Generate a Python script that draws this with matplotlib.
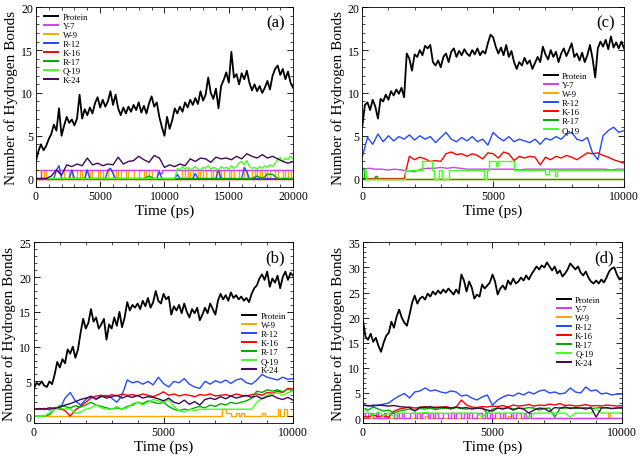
import matplotlib
matplotlib.use("Agg")
import matplotlib.pyplot as plt
import matplotlib.ticker as ticker
import numpy as np

# ── Data (values in number of H-bonds) ──
# (a) 0..20000 ps
a_protein = [2.0, 3.2, 4.0, 3.3, 3.8, 4.6, 5.2, 6.3, 5.6, 8.2, 5.0, 6.2, 7.2, 6.5, 6.9, 6.2, 7.0,
             9.8, 7.0, 8.1, 7.4, 8.3, 7.6, 8.8, 9.5, 8.3, 9.2, 8.4, 9.0, 10.2, 8.6, 9.8, 8.2, 7.4,
             8.3, 7.6, 8.4, 7.8, 8.6, 8.0, 8.9, 7.7, 8.5, 7.6, 8.8, 9.6, 8.4, 8.9, 7.2, 6.0, 5.0,
             7.2, 5.8, 6.8, 8.2, 7.6, 8.4, 7.8, 8.9, 8.3, 9.2, 8.6, 9.4, 8.7, 10.2, 9.1, 9.8, 11.8,
             10.0, 9.3, 10.5, 8.2, 10.8, 11.5, 12.4, 11.2, 14.8, 11.8, 12.2, 11.0, 12.3, 11.6, 12.6,
             11.2, 10.3, 11.0, 10.2, 10.8, 10.0, 10.6, 11.4, 10.4, 12.0, 12.8, 13.2, 12.1, 12.8,
             11.6, 12.5, 11.2, 10.6]
a_y7 = [0, 0] + [1] * 46 + [0.6] + [1] * 52
a_w9 = [1, 1, 0, 1, 0, 0, 0, 0, 0, 0, 0, 1, 1, 0, 1, 1, 0, 1, 0, 1, 1, 0, 1, 1, 0, 1, 0, 0, 1, 1,
        0, 1, 0, 1, 1, 0, 1, 1, 0, 0, 1, 1, 0, 1, 0, 1, 1, 0, 0, 0, 0, 0, 0, 0, 0, 0, 0, 1, 0, 1,
        0, 1, 1, 0, 1, 0, 1, 1, 0, 1, 0, 1, 0, 1, 1, 0, 1, 0, 0, 1, 1, 0, 1, 1, 0, 1, 0, 1, 0, 1,
        0, 1, 1, 0, 1, 1, 0, 1, 0, 1, 1]
a_r12 = [0, 0, 0, 0, 0, 0, 0, 0, 1.0, 1.5, 0, 0, 0, 0, 1.0, 0, 0, 0, 0, 0, 1.0, 0, 0, 0, 0, 0,
         0, 0, 1.0, 1.2, 0.6, 0, 0, 0, 0, 0, 0, 0, 0, 0, 0, 0, 0, 0, 0, 0, 0, 0, 0.8, 0, 0, 0, 0,
         0, 0, 0.5, 0, 0, 0, 0, 0, 0, 0.6, 0, 0, 0, 0, 0, 0, 0, 0, 1.0, 0, 0, 0, 0, 0, 0, 0, 0,
         0, 1.3, 0.8, 0, 0, 0, 0, 0, 0, 0, 0, 0, 0, 0, 0, 0, 0, 0, 0, 0, 0]
a_k16 = [0, 0]
a_r17 = [0, 0, 0, 0, 0, 0, 0, 0, 0, 0, 0, 0, 0, 0, 0, 0, 0, 0, 0, 0, 0, 0, 0.3, 0, 0, 0, 0, 0, 0,
         0, 0, 0, 0, 0, 0, 0, 0, 0, 0, 0, 0, 0, 0, 0.3, 0, 0.5, 0.5, 0, 0, 0, 0]
a_q19 = [0] * 55 + [1.2, 1.0, 1.4, 1.1, 1.3, 1.0, 1.2, 1.4, 1.1, 1.0, 1.3, 1.2, 1.5, 1.1, 1.3,
                    1.2, 1.0, 1.4, 1.2, 1.3, 1.1, 1.5, 1.2, 1.4, 1.8, 2.0, 1.6, 2.1, 1.4, 1.2,
                    1.3, 1.1, 1.4, 1.2, 1.5, 1.3, 1.6, 1.4, 1.8, 2.2, 2.5, 2.0, 2.4, 2.2, 2.6,
                    2.3]
a_k24 = [0, 0, 0, 0.3, 1.0, 0.4, 1.6, 1.4, 1.7, 1.5, 2.4, 1.6, 1.8, 1.5, 1.7, 1.6, 2.5, 1.7,
         2.0, 2.1, 2.6, 2.2, 1.9, 2.7, 2.4, 1.3, 1.6, 1.4, 1.7, 1.5, 2.3, 2.0, 2.4, 2.3, 1.9,
         2.5, 2.3, 2.4, 2.2, 2.6, 2.3, 2.9, 2.6, 2.4, 2.8, 2.4, 2.6, 2.3, 2.0, 1.8, 2.0]

# (b) 0..10000 ps
b_protein = [4.0, 4.8, 4.5, 5.0, 4.4, 4.2, 5.0, 4.6, 6.0, 7.8, 7.0, 8.2, 7.6, 9.6, 9.0, 10.0,
             8.4, 9.6, 12.0, 14.0, 12.6, 13.4, 15.4, 13.6, 14.2, 12.6, 13.2, 14.0, 11.0, 13.2,
             12.6, 14.2, 13.0, 15.0, 12.8, 14.2, 16.4, 15.2, 16.0, 15.6, 16.2, 15.4, 16.6, 15.8,
             17.0, 15.6, 16.4, 18.0, 16.6, 16.2, 17.6, 16.8, 17.2, 14.6, 15.8, 15.2, 16.0, 14.8,
             16.2, 15.0, 14.2, 15.4, 14.8, 15.6, 13.8, 14.6, 15.6, 14.8, 16.2, 15.4, 14.6, 16.6,
             17.6, 16.8, 17.4, 16.6, 17.8, 17.0, 17.4, 16.8, 17.2, 16.6, 17.0, 16.4, 17.6, 18.4,
             18.8, 19.8, 20.4, 19.6, 20.8, 18.6, 19.8, 19.2, 20.2, 18.4, 20.0, 20.8, 19.6, 20.6,
             20.2]
b_w9_t = [0, 7250, 7400, 7600, 7800, 7900, 8000, 8100, 8800, 8900, 9400, 9500, 9650, 9750, 10000]
b_w9 = [0, 1, 0.5, 0, 0.5, 0, 0.5, 0, 0.5, 0, 1, 0, 1, 0, 0]
b_r12 = [1.0, 1.0, 1.1, 0.9, 1.2, 1.0, 2.6, 3.4, 2.2, 1.6, 2.4, 2.9, 2.4, 2.8, 3.0, 2.6, 2.0,
         3.0, 5.2, 4.8, 5.0, 4.6, 5.0, 4.5, 5.6, 4.7, 4.2, 5.0, 4.8, 5.4, 4.6, 4.2, 4.0, 5.0,
         4.6, 5.1, 4.8, 5.2, 4.7, 5.2, 5.4, 4.8, 4.6, 5.2, 6.0, 5.6, 5.4, 5.2, 5.6, 5.3, 5.4]
b_k16 = [1.0, 1.0, 1.1, 1.0, 1.2, 1.1, 0.8, 0.0, 0.9, 1.4, 2.0, 2.6, 2.9, 3.0, 2.8, 3.1, 2.9,
         3.2, 3.0, 3.1, 2.9, 3.2, 3.0, 2.8, 3.1, 3.5, 3.0, 3.2, 2.9, 3.1, 3.0, 2.8, 3.1, 3.0,
         3.2, 2.9, 3.0, 3.1, 2.9, 3.2, 3.0, 2.9, 3.1, 3.2, 3.0, 3.4, 3.3, 3.6, 3.4, 4.0, 3.9]
b_r17 = [0, 0, 0, 0.2, 1.0, 1.5, 1.4, 1.2, 1.5, 1.3, 1.6, 2.0, 1.6, 1.4, 1.2, 1.0, 1.2, 1.0,
         1.4, 1.6, 2.0, 1.8, 2.2, 2.0, 1.8, 2.0, 1.4, 1.0, 0.8, 1.0, 0.9, 1.2, 1.4, 1.2, 1.6,
         1.4, 1.8, 1.6, 2.0, 1.8, 2.0, 2.2, 2.6, 3.6, 3.4, 3.8, 3.6, 3.8, 3.5, 3.9, 3.6]
b_q19 = [0, 0, 0, 0.5, 1.0, 1.2, 1.0, 1.1, 0.4, 0.6, 1.0, 1.2, 1.6, 1.2, 1.0, 1.0, 1.4, 1.0,
         1.2, 1.8, 2.0, 1.6, 2.0, 2.4, 2.2, 2.0, 2.4, 1.4, 0.8, 0.6, 1.0, 0.8, 1.0, 1.0, 1.0,
         1.0, 1.0, 1.0, 1.0, 1.0, 1.0, 1.0, 1.0, 2.0, 2.6, 3.0, 3.2, 3.4, 3.0, 3.4, 3.6]
b_k24 = [1.0, 1.1, 1.0, 1.2, 1.1, 1.3, 1.6, 1.8, 2.1, 2.4, 2.6, 2.8, 2.5, 2.9, 2.6, 2.8, 3.0,
         2.6, 2.9, 2.7, 3.0, 2.6, 2.8, 2.7, 2.5, 2.2, 2.6, 2.0, 1.8, 2.3, 1.7, 2.1, 1.6, 2.4,
         2.6, 2.4, 2.8, 2.5, 2.9, 2.6, 2.8, 3.0, 2.7, 2.9, 2.5, 2.8, 3.0, 2.6, 2.4, 2.7, 2.3]

# (c) 0..10000 ps
c_protein = [6.0, 8.6, 8.9, 8.0, 9.2, 8.4, 7.0, 9.3, 9.0, 9.8, 9.2, 10.2, 9.7, 10.4, 9.9, 10.6,
             9.5, 14.6, 14.0, 12.6, 14.5, 14.2, 15.0, 14.4, 15.5, 15.2, 15.6, 13.6, 13.2, 13.8,
             13.0, 14.2, 14.6, 13.6, 14.8, 15.2, 14.2, 14.9, 14.4, 15.1, 14.6, 14.3, 15.0, 14.5,
             15.2, 14.4, 14.9, 14.6, 15.8, 16.8, 16.5, 15.4, 14.6, 15.3, 14.4, 15.6, 14.2, 14.9,
             13.6, 12.8, 13.6, 13.2, 14.1, 13.4, 13.8, 12.8, 13.5, 14.2, 13.6, 15.4, 14.5, 13.9,
             15.0, 14.2, 14.8, 13.6, 14.6, 15.2, 14.3, 15.0, 15.8, 14.2, 14.6, 13.8, 14.7, 13.6,
             14.4, 15.6, 14.0, 11.8, 15.2, 16.0, 15.4, 16.2, 15.1, 16.6, 15.3, 15.9, 15.2, 16.0,
             15.2]
c_y7 = [1.1, 1.2, 1.1, 1.1, 1.0, 1.1, 1.0, 0.9, 0.8, 1.1, 1.2, 1.2, 1.3, 1.2, 1.3, 1.2, 1.1,
        1.1, 1.1, 1.1, 1.1, 1.1, 1.1, 1.1, 1.0, 1.1, 1.1, 1.1, 1.1, 1.1, 1.1, 1.1, 1.1, 1.1,
        1.1, 1.1, 1.1, 1.1, 1.0, 1.1, 1.1]
c_w9 = [0, 0]
c_r12 = [2.5, 4.8, 4.0, 5.2, 4.3, 5.0, 4.4, 4.9, 4.6, 5.1, 4.5, 5.0, 4.6, 4.9, 4.2, 4.8, 5.4,
         4.6, 4.3, 4.8, 4.4, 4.9, 4.3, 4.6, 3.9, 5.4, 4.8, 4.4, 4.9, 4.3, 4.6, 4.4, 4.2, 4.6,
         4.0, 4.7, 4.5, 4.9, 4.6, 5.2, 5.4, 4.6, 4.4, 4.8, 3.0, 2.2, 5.0, 5.6, 6.0, 5.4, 5.6]
c_k16 = [0, 0, 0, 0, 0, 0, 0, 0, 0, 2.6, 2.2, 2.5, 2.3, 2.0, 2.1, 2.0, 2.9, 3.1, 2.8, 2.9,
         2.6, 2.9, 2.7, 2.3, 3.0, 2.9, 2.4, 3.1, 2.9, 2.1, 2.6, 2.4, 2.6, 2.5, 1.6, 2.5, 2.2,
         2.6, 2.4, 2.7, 2.5, 2.2, 2.6, 3.0, 2.9, 3.0, 2.7, 2.5, 2.2, 2.0, 1.8]
c_r17_t = [0, 60, 150, 500, 560, 10000]
c_r17 = [1.2, 0, 0, 0.3, 0, 0]
c_q19_t = [0, 150, 1650, 2300, 2650, 2750, 2950, 3050, 3300, 4650, 4750, 4850, 5100, 5200,
           5800, 7000, 7150, 7350, 7450, 10000]
c_q19 = [1, 0, 1, 2, 1, 0, 1, 0, 1, 0, 1, 2, 1.5, 2, 1, 0.5, 1, 0.3, 1, 1]

# (d) 0..10000 ps
d_protein = [19.5, 16.2, 15.6, 16.8, 15.2, 16.0, 14.4, 13.2, 15.0, 16.4, 17.0, 19.2, 18.0,
             20.2, 21.6, 20.0, 19.0, 18.4, 20.6, 23.0, 24.4, 22.8, 23.8, 24.2, 23.6, 24.8,
             24.2, 25.2, 24.6, 25.4, 24.8, 25.6, 25.0, 25.8, 25.2, 24.6, 25.6, 24.8, 28.6,
             27.4, 25.2, 27.2, 26.0, 23.8, 24.6, 24.2, 26.6, 25.8, 26.4, 27.0, 28.6, 27.2,
             24.6, 25.8, 26.4, 25.6, 27.4, 26.6, 27.8, 26.8, 27.2, 28.0, 27.4, 28.4, 27.6,
             28.6, 29.4, 30.2, 29.6, 30.4, 30.0, 31.0, 30.2, 29.4, 30.2, 28.8, 29.4, 28.2,
             28.8, 29.6, 30.8, 30.2, 29.6, 30.2, 29.0, 28.4, 29.2, 28.0, 27.2, 26.8, 27.4,
             26.8, 27.6, 27.0, 28.0, 29.2, 29.8, 30.0, 28.6, 27.6, 27.8]
d_y7 = [1, 0, 1, 1, 0, 1, 0, 0, 1, 0, 1, 1, 0, 1, 0, 1, 0, 0, 1, 1, 0, 1, 0, 1, 1, 0, 1, 0,
        1, 0, 0, 1, 1, 0, 1, 0, 1, 1, 0, 1, 0, 1, 0, 0, 1, 1, 0, 1, 0, 1, 0, 1, 1, 0, 1, 0,
        0, 1, 0, 1, 1, 0, 1, 0, 1, 0, 0, 0, 0, 0, 0, 0, 0, 0, 0, 0, 0, 0, 0, 0, 0, 0, 0, 0,
        0, 0, 0, 0, 0, 0, 0, 0, 0, 0, 0, 0, 0, 0, 0, 0, 0]
d_w9_t = [0, 2400, 2500, 5600, 5700, 9450, 9550, 10000]
d_w9 = [0, 0.5, 0, 0.5, 0, 1, 0, 0]
d_r12 = [2.6, 2.4, 2.6, 2.5, 2.8, 3.0, 3.8, 4.4, 4.9, 4.0, 5.2, 5.4, 6.0, 5.4, 5.6, 5.2, 5.0,
         5.4, 5.2, 4.4, 4.6, 4.0, 3.6, 4.2, 4.6, 2.6, 3.6, 4.2, 4.6, 4.4, 5.0, 4.6, 5.2, 4.8,
         5.4, 5.6, 5.0, 5.2, 4.8, 5.0, 6.0, 5.2, 5.0, 6.2, 5.4, 5.6, 4.8, 5.0, 4.6, 4.8, 4.8]
d_k16 = [0.4, 0.2, 0.6, 0.3, 0.5, 0.2, 1.4, 1.8, 2.0, 2.2, 2.0, 2.1, 2.3, 2.0, 2.2, 2.1, 2.3,
         2.0, 2.2, 3.6, 2.6, 2.2, 2.1, 2.3, 2.2, 2.4, 2.3, 2.5, 2.2, 2.6, 2.4, 2.5, 2.7, 2.4,
         2.6, 2.5, 2.8, 2.6, 2.9, 2.5, 2.6, 2.4, 2.5, 2.7, 2.4, 2.5, 2.4, 2.6, 2.5, 2.4, 2.5]
d_r17 = [2.0, 1.6, 2.2, 1.8, 1.4, 1.6, 1.0, 1.4, 1.6, 1.8, 1.5, 1.9, 1.8, 2.0, 1.7, 1.9, 2.0,
         1.8, 2.1, 1.9, 1.8, 2.0, 1.9, 2.1, 1.0, 1.8, 2.0, 1.9, 2.1, 1.8, 2.0, 1.9, 2.1, 2.0,
         1.6, 1.9, 2.0, 0.2, 1.9, 2.0, 2.1, 1.9, 2.0, 2.1, 1.9, 2.0, 2.1, 2.0, 1.9, 2.0, 2.1]
d_q19 = [2.2, 1.0, 0.6, 1.2, 0.5, 1.0, 0.3, 1.0, 1.0, 0.9, 1.0, 1.0, 1.1, 1.0, 1.0, 1.0, 0.9,
         1.0, 1.0, 1.0, 1.0, 1.0, 1.0, 0.2, 1.0, 1.0, 1.0, 1.0, 1.0, 1.0, 1.0, 1.0, 0.1, 1.0,
         1.0, 1.0, 1.0, 1.0, 1.0, 1.0, 0.2, 1.0, 1.0, 1.0, 1.0, 2.0, 1.0, 1.0, 1.0, 1.0, 1.0]
d_k24 = [2.6, 2.5, 2.4, 2.6, 2.5, 2.4, 2.5, 2.3, 2.2, 2.1, 1.4, 2.2, 2.1, 2.3, 2.0, 2.2, 2.1,
         2.0, 2.2, 2.0, 2.1, 1.8, 2.0, 1.9, 1.6, 1.4, 2.0, 1.8, 2.1, 1.6, 2.0, 1.8, 1.0, 1.6,
         2.0, 1.9, 1.3, 2.1, 2.0, 2.2, 1.9, 2.1, 2.0, 1.8, 2.1, 0.2, 2.0, 2.1, 1.9, 2.0, 2.1]

# ── Style ──
plt.rcParams.update({
    "font.family": ["Liberation Serif", "DejaVu Serif"],
    "font.size": 8.5,
    "axes.linewidth": 0.6,
    "xtick.direction": "in",
    "ytick.direction": "in",
    "xtick.top": True,
    "ytick.right": True,
    "xtick.major.size": 4,
    "ytick.major.size": 4,
    "xtick.minor.size": 2,
    "ytick.minor.size": 2,
    "xtick.major.width": 0.6,
    "ytick.major.width": 0.6,
    "xtick.minor.width": 0.5,
    "ytick.minor.width": 0.5,
})

COLORS = {
    "Protein": "#000000",
    "Y-7":     "#d040f0",
    "W-9":     "#ffa500",
    "R-12":    "#2448ff",
    "K-16":    "#ff0000",
    "R-17":    "#00aa00",
    "Q-19":    "#44ff22",
    "K-24":    "#3c0a50",
}
ZORDER = {"W-9": 1.5}

# series: (label, times or None for evenly spaced, values, drawstyle)
panels = [
    dict(rect=[0.056, 0.591, 0.402, 0.391], tmax=20000, ylim=(-1, 20), ymaj=5,
         tag="(a)", leg=(0.03, 0.975),
         series=[("Protein", None, a_protein, "default"),
                 ("Y-7", None, a_y7, "steps-post"),
                 ("W-9", None, a_w9, "steps-post"),
                 ("R-12", None, a_r12, "default"),
                 ("K-16", None, a_k16, "default"),
                 ("R-17", None, a_r17, "default"),
                 ("Q-19", None, a_q19, "default"),
                 ("K-24", None, a_k24, "default")]),
    dict(rect=[0.566, 0.591, 0.409, 0.391], tmax=10000, ylim=(-1, 20), ymaj=5,
         tag="(c)", leg=(0.69, 0.645),
         series=[("Protein", None, c_protein, "default"),
                 ("Y-7", None, c_y7, "default"),
                 ("W-9", None, c_w9, "default"),
                 ("R-12", None, c_r12, "default"),
                 ("K-16", None, c_k16, "default"),
                 ("R-17", c_r17_t, c_r17, "steps-post"),
                 ("Q-19", c_q19_t, c_q19, "steps-post")]),
    dict(rect=[0.053, 0.078, 0.405, 0.393], tmax=10000, ylim=(-1, 25), ymaj=5,
         tag="(b)", leg=(0.80, 0.62),
         series=[("Protein", None, b_protein, "default"),
                 ("W-9", b_w9_t, b_w9, "steps-post"),
                 ("R-12", None, b_r12, "default"),
                 ("K-16", None, b_k16, "default"),
                 ("R-17", None, b_r17, "default"),
                 ("Q-19", None, b_q19, "default"),
                 ("K-24", None, b_k24, "default")]),
    dict(rect=[0.567, 0.078, 0.405, 0.393], tmax=10000, ylim=(-1, 35), ymaj=5,
         tag="(d)", leg=(0.745, 0.71),
         series=[("Protein", None, d_protein, "default"),
                 ("Y-7", None, d_y7, "steps-post"),
                 ("W-9", d_w9_t, d_w9, "steps-post"),
                 ("R-12", None, d_r12, "default"),
                 ("K-16", None, d_k16, "default"),
                 ("R-17", None, d_r17, "default"),
                 ("Q-19", None, d_q19, "default"),
                 ("K-24", None, d_k24, "default")]),
]

fig = plt.figure(figsize=(6.4, 4.6), dpi=100)

for p in panels:
    ax = fig.add_axes(p["rect"])
    for label, times, vals, ds in p["series"]:
        if times is None:
            times = np.linspace(0, p["tmax"], len(vals))
        lw = 1.3 if label == "Protein" else 1.0
        ax.plot(times, vals, color=COLORS[label], lw=lw, drawstyle=ds, label=label,
                zorder=ZORDER.get(label, 2))

    ax.set_xlim(0, p["tmax"])
    ax.set_ylim(*p["ylim"])
    ax.xaxis.set_major_locator(ticker.MultipleLocator(5000))
    ax.xaxis.set_minor_locator(ticker.MultipleLocator(1000))
    ax.yaxis.set_major_locator(ticker.MultipleLocator(p["ymaj"]))
    ax.yaxis.set_minor_locator(ticker.MultipleLocator(1))
    ax.tick_params(axis="both", which="major", pad=2)
    ax.set_xlabel("Time (ps)", fontsize=11, labelpad=1)
    ax.set_ylabel("Number of Hydrogen Bonds", fontsize=11, labelpad=2)
    ax.text(0.93, 0.915, p["tag"], transform=ax.transAxes, fontsize=12,
            ha="center", va="center")

    leg = ax.legend(loc="upper left", bbox_to_anchor=p["leg"], frameon=False,
                    fontsize=6.3, handlelength=1.6, handletextpad=0.5,
                    labelspacing=0.1, borderpad=0.1, borderaxespad=0)
    for h in leg.get_lines():
        h.set_linewidth(1.4)

fig.savefig("out.png", dpi=100)
